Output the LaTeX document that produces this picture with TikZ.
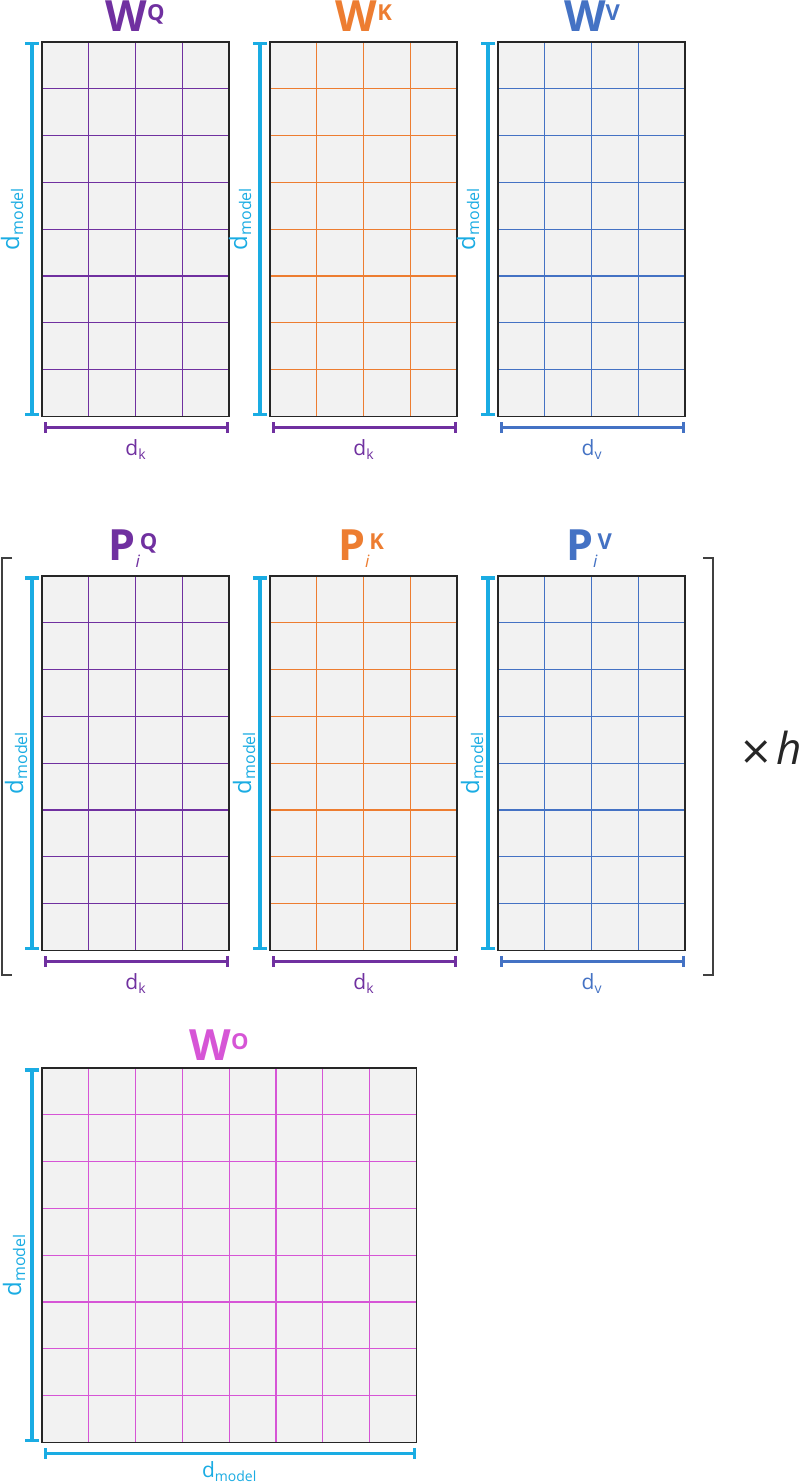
\documentclass[tikz,border=0pt]{standalone}
\usepackage{fontspec}
\setmainfont{Open Sans}
\newfontfamily\djv{DejaVu Sans}
\usetikzlibrary{arrows.meta}
\definecolor{cpurple}{HTML}{7030A0}
\definecolor{corange}{HTML}{ED7D31}
\definecolor{cblue}{HTML}{4472C4}
\definecolor{ccyan}{HTML}{1AACE3}
\definecolor{cpink}{HTML}{D655D6}
\definecolor{cfill}{HTML}{F2F2F2}
\definecolor{cborder}{HTML}{262626}
\definecolor{cbracket}{HTML}{404040}
\tikzset{
  mat/.style={draw=cborder, fill=cfill, line width=1.6pt, inner sep=0pt, outer sep=0pt, rectangle},
  gridln/.style={line width=1.2pt},
  dimbar/.style={line width=3.5pt, {Bar[width=14pt,line width=3.5pt]}-{Bar[width=14pt,line width=3.5pt]}},
  hdimbar/.style={line width=3.5pt, {Bar[width=11pt,line width=3pt]}-{Bar[width=11pt,line width=3pt]}},
  dlbl/.style={font=\fontsize{21}{24}\selectfont, inner sep=0pt},
  vlbl/.style={font=\fontsize{24}{26}\selectfont, inner sep=0pt},
  ttl/.style={font=\fontsize{43}{45}\selectfont\bfseries, inner sep=0pt, anchor=base},
  brk/.style={draw=cbracket, line width=1.6pt},
}
\newcommand\sub[1]{\raisebox{-4pt}{\fontsize{14}{14}\selectfont #1}}
\newcommand\vsub[1]{\raisebox{-4pt}{\fontsize{16}{16}\selectfont #1}}
\newcommand\supr[1]{\raisebox{11pt}{\fontsize{22}{22}\selectfont #1}}
% name, x, y, cols, rows, color, label xshift, label yshift
\newcommand\mgrid[8]{%
  \node[mat, anchor=north west, minimum width=#4*46.8pt, minimum height=#5*46.8pt] (#1) at (#2,#3) {};
  \foreach \c in {1,...,\numexpr#4-1\relax}
    \draw[gridln,#6] ([xshift=\c*46.8pt]#1.north west) -- ([xshift=\c*46.8pt]#1.south west);
  \foreach \r in {1,...,\numexpr#5-1\relax}
    \draw[gridln,#6] ([yshift=-\r*46.8pt]#1.north west) -- ([yshift=-\r*46.8pt]#1.north east);
  \draw[draw=cborder, line width=1.6pt] (#1.north west) rectangle (#1.south east);
  \draw[dimbar, ccyan] ([xshift=-10pt]#1.north west) -- ([xshift=-10pt]#1.south west);
  \node[vlbl, ccyan, rotate=90] (#1-dm) at ([xshift=#7pt,yshift=#8pt]#1.west) {d\vsub{model}};
}
% name, color, label
\newcommand\hdim[3]{%
  \draw[hdimbar, #2] ([xshift=2pt,yshift=-11pt]#1.south west) -- ([yshift=-11pt]#1.south east);
  \node[dlbl, #2] (#1-dl) at ([yshift=-33pt]#1.south) {#3};
}
\begin{document}
\begin{tikzpicture}[x=1pt,y=-1pt]
\useasboundingbox (0,0) rectangle (800,1482);
\fill[white] (0,0) rectangle (800,1482);

% top row
\mgrid{WQ}{42}{42}{4}{8}{cpurple}{-30}{10}
\mgrid{WK}{270}{42}{4}{8}{corange}{-30}{10}
\mgrid{WV}{498}{42}{4}{8}{cblue}{-30}{10}
\hdim{WQ}{cpurple}{d\sub{k}}
\hdim{WK}{cpurple}{d\sub{k}}
\hdim{WV}{cblue}{d\sub{v}}
\node[ttl, cpurple] (tWQ) at (135,32) {W\supr{Q}};
\node[ttl, corange] (tWK) at (364,32) {W\supr{K}};
\node[ttl, cblue] (tWV) at (592,32) {W\supr{V}};

% middle row
\mgrid{PQ}{42}{576}{4}{8}{cpurple}{-26}{0}
\mgrid{PK}{270}{576}{4}{8}{corange}{-26}{0}
\mgrid{PV}{498}{576}{4}{8}{cblue}{-26}{0}
\hdim{PQ}{cpurple}{d\sub{k}}
\hdim{PK}{cpurple}{d\sub{k}}
\hdim{PV}{cblue}{d\sub{v}}
\node[ttl, cpurple] (tPQ) at (133,560) {P\raisebox{-7pt}{\fontsize{17}{17}\selectfont\itshape\mdseries i}\supr{Q}};
\node[ttl, corange] (tPK) at (361,560) {P\raisebox{-7pt}{\fontsize{17}{17}\selectfont\itshape\mdseries i}\supr{K}};
\node[ttl, cblue] (tPV) at (589,560) {P\raisebox{-7pt}{\fontsize{17}{17}\selectfont\itshape\mdseries i}\supr{V}};

% brackets
\coordinate (bl1) at (12,558);
\coordinate (bl2) at (2,558);
\coordinate (bl3) at (2,975);
\coordinate (bl4) at (12,975);
\draw[brk] (bl1) -- (bl2) -- (bl3) -- (bl4);
\coordinate (br1) at (703,558);
\coordinate (br2) at (713,558);
\coordinate (br3) at (713,975);
\coordinate (br4) at (703,975);
\draw[brk] (br1) -- (br2) -- (br3) -- (br4);
\node[text=black!85, inner sep=0pt, anchor=base west] (timesh) at (739,764) {{\djv\fontsize{40}{40}\selectfont ×}\hspace{4pt}{\fontsize{44}{44}\selectfont\itshape h}};

% bottom
\mgrid{WO}{42}{1068}{8}{8}{cpink}{-28}{-10}
\draw[hdimbar, ccyan] ([xshift=2pt,yshift=-11pt]WO.south west) -- ([yshift=-11pt]WO.south east);
\node[dlbl, ccyan] (WO-dl) at ([yshift=-29pt]WO.south) {d\sub{model}};
\node[ttl, cpink] (tWO) at (219,1060) {W\supr{O}};
\end{tikzpicture}
\end{document}
